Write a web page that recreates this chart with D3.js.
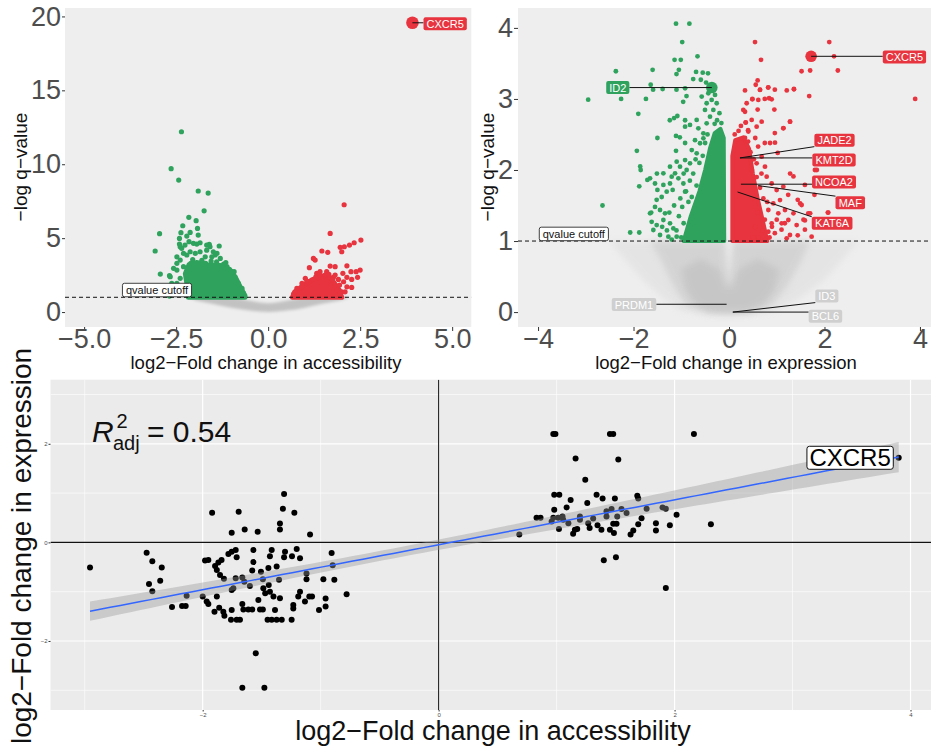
<!DOCTYPE html>
<html><head><meta charset="utf-8">
<script src="https://cdn.jsdelivr.net/npm/d3@7"></script>
<style>
body{margin:0;background:#fff}
svg{display:block;font-family:"Liberation Sans",Arial,Helvetica,sans-serif}
</style>
</head><body>
<svg id="chart" width="931" height="749"></svg>
<script>
// ================= DATA =================
// --- Panel A: differential accessibility volcano (log2FC, -log q) ---
const accXTicks = [-5, -2.5, 0, 2.5, 5];
const accXTickLabels = ["\u22125.0", "\u22122.5", "0.0", "2.5", "5.0"];
const accYTicks = [0, 5, 10, 15, 20];
const accCutoff = 1;
// not-significant cloud outline (smile shaped band below the cutoff)
const accNsCloud = [[-2.15,1.0],[-2.0,0.82],[-1.5,0.55],[-1.0,0.3],[-0.5,0.1],[0,0.0],[0.5,0.1],[1.0,0.3],[1.5,0.58],[2.0,0.82],[2.2,1.0],[1.0,1.0],[0.6,0.82],[0.3,0.68],[0,0.6],[-0.3,0.68],[-0.6,0.82],[-1.0,1.0]];
// dense cores of significant regions
const accDownCore = [[-2.17,1.0],[-2.2,1.8],[-2.25,2.6],[-2.15,3.2],[-1.95,3.35],[-1.65,3.2],[-1.3,3.15],[-1.05,2.9],[-0.88,2.3],[-0.76,1.7],[-0.63,1.1],[-0.63,1.0]];
const accUpCore = [[0.66,1.0],[0.72,1.35],[0.9,1.7],[1.2,2.2],[1.5,2.45],[1.68,2.35],[1.8,1.95],[1.93,1.5],[2.0,1.0]];
const accDownPoints = [[-2.356,12.2],[-2.636,9.70],[-2.43,8.93],[-1.90,8.19],[-1.63,8.05],[-1.74,6.85],[-2.155,6.41],[-1.957,6.18],[-2.32,5.84],[-2.95,5.30],[-1.92,5.66],[-2.12,5.39],[-2.21,5.14],[-1.90,5.21],[-2.37,5.37],[-2.41,4.98],[-3.07,4.13],[-1.33,4.47],[-2.93,2.57],[-2.68,2.46],[-2.48,2.84],[-1.60,4.58],[-1.67,4.19],[-1.85,4.08],[-2.39,4.42],[-2.30,3.97],[-2.57,2.96],[-0.924,2.73],[-1.26,3.07],[-2.48,3.74],[-1.44,3.86],
 [-2.41,4.60],[-2.35,4.31],[-2.26,4.53],[-2.15,4.76],[-2.03,4.65],[-1.94,4.60],[-1.85,4.69],[-1.67,4.53],[-1.58,4.42],[-1.49,4.08],[-1.39,3.97],[-1.53,3.74],[-1.71,3.74],[-1.98,3.97],[-2.12,4.08],[-2.21,3.86],[-2.39,3.52],[-2.48,3.30],[-2.30,3.07],[-2.66,2.39],[-2.62,1.94],[-2.75,1.71],[-2.48,1.94],[-2.39,2.28],[-2.35,1.71],[-2.30,1.27],[-2.68,1.08],[-1.12,3.07],[-0.99,2.73],[-1.21,3.25],[-0.90,2.39],[-0.81,1.94],[-0.71,1.60],[-0.67,1.27],[-1.30,3.63],
 [-1.8,3.5],[-1.55,3.45],[-2.05,3.55],[-1.15,3.35],[-1.4,3.4],[-2.1,3.3],[-1.7,3.3]];
const accUpPoints = [[2.065,7.26],[1.685,5.32],[2.52,4.87],[2.337,4.69],[2.21,4.53],[2.07,4.42],[1.957,4.38],[2.0,4.08],[1.46,4.13],[1.62,4.04],[1.23,3.63],[1.277,3.52],[1.12,3.0],[1.685,3.11],[1.82,3.07],[2.14,3.13],[2.5,2.84],[2.39,2.73],[2.25,2.73],[2.03,2.62],[2.43,2.35],[2.27,2.21],[2.14,2.35],[1.94,1.83],[2.27,1.67],[2.0,1.37],[0.69,1.22],[1.55,2.5],[1.775,2.35],
 [1.32,2.62],[1.41,2.73],[1.59,2.73],[1.82,2.5],[1.91,2.21],[2.05,2.05],[2.14,1.71],[2.09,1.37],[1.87,1.49],[1.01,2.28],[1.10,2.05],[0.92,1.94],[0.78,1.60],[0.73,1.37],[1.96,1.27],
 [1.3,2.4],[1.65,2.55],[1.4,2.5],[1.05,2.1],[1.75,2.2]];
const accGenes = ["CXCR5"];
const accGeneLogFC = [3.92];
const accGeneQ = [19.57];

// --- Panel B: differential expression volcano ---
const exprXTicks = [-4, -2, 0, 2, 4];
const exprXTickLabels = ["\u22124", "\u22122", "0", "2", "4"];
const exprYTicks = [0, 1, 2, 3, 4];
const exprCutoff = 1;
const exprNsOuter = [[-2.5,1.0],[-2.2,0.75],[-1.8,0.45],[-1.4,0.2],[-1.0,0.02],[-0.4,-0.05],[0.4,-0.05],[1.0,0.02],[1.5,0.2],[2.0,0.45],[2.4,0.75],[2.7,1.0],[0.09,1.0],[0.0,0.38],[-0.09,1.0]];
const exprNsMid = [[-1.65,1.0],[-1.4,0.7],[-1.15,0.35],[-0.9,0.1],[-0.5,0.0],[0,-0.03],[0.5,0.0],[0.9,0.1],[1.2,0.35],[1.5,0.7],[1.7,1.0],[0.08,1.0],[0.0,0.37],[-0.08,1.0]];
const exprNsCore = [[-1.0,0.6],[-0.9,0.3],[-0.7,0.1],[-0.35,0.0],[0.35,0.0],[0.7,0.1],[0.95,0.3],[1.05,0.6],[0.6,0.75],[0.2,0.6],[0.05,0.36],[-0.05,0.36],[-0.2,0.6],[-0.6,0.75]];
const exprDownCore = [[-0.95,1.0],[-0.8,1.35],[-0.62,1.7],[-0.5,2.0],[-0.4,2.3],[-0.3,2.52],[-0.18,2.58],[-0.11,2.45],[-0.1,1.0]];
const exprUpCore = [[0.07,1.0],[0.07,2.2],[0.13,2.42],[0.3,2.46],[0.42,2.3],[0.5,1.95],[0.6,1.6],[0.72,1.25],[0.8,1.0]];
const exprDownPoints = [[-1.11,4.06],[-0.83,4.06],[-0.98,3.80],[-0.66,3.60],[-1.14,3.55],[-1.01,3.55],[-2.37,3.39],[-1.60,3.41],[-1.05,3.41],[-1.10,3.35],[-0.69,3.38],[-0.55,3.37],[-0.44,3.36],[-0.75,3.28],[-0.59,3.27],[-0.48,3.23],[-1.64,3.20],[-1.59,3.13],[-1.39,3.14],[-1.10,3.13],[-0.92,3.15],[-2.95,2.99],[-2.26,3.0],[-1.74,3.0],[-0.89,3.04],[-0.96,2.96],[-1.90,2.79],[-1.24,2.70],[-1.15,2.73],[-0.92,2.70],[-1.50,2.45],[-1.11,2.48],[-1.03,2.46],[-0.92,2.38],[-1.93,2.27],[-1.11,2.27],[-1.86,2.05],[-1.85,2.0],[-1.71,1.86],[-1.88,1.77],[-1.51,1.95],[-2.65,1.50],[-2.07,1.12],[-1.88,1.12],[-1.63,1.40],[-1.62,1.27],
 [-1.654,1.883],[-1.55,1.81],[-1.50,1.72],[-1.375,1.79],[-1.305,1.695],[-1.236,1.81],[-1.20,1.906],[-1.13,1.953],[-1.41,1.62],[-1.515,1.58],[-1.55,1.48],[-1.445,1.437],[-1.34,1.39],[-1.375,1.296],[-1.236,1.249],[-1.166,1.178],[-1.654,1.39],[-1.515,1.225],[-1.585,1.155],[-1.445,1.085],[-1.27,1.061],[-1.096,1.061],[-1.06,1.883],[-0.956,1.81],[-0.92,1.695],[-1.026,2.047],[-0.887,2.0],[-0.817,2.094],[-0.92,2.14],[-0.78,2.28],[-0.677,2.235],[-0.607,2.376],[-0.712,2.42],[-0.537,2.516],[-0.468,2.657],[-0.398,2.75],[-0.503,2.845],[-0.328,2.845],[-0.363,2.986],[-0.258,2.939],[-0.468,2.939],[-0.572,3.033],[-0.433,3.08],[-0.293,3.056],[-0.677,2.704],[-0.817,2.634],[-0.92,2.61],[-1.082,2.76],[-0.642,2.587],[-0.537,2.446],[-1.236,2.047],[-1.096,2.117],[-1.375,1.953],
 [-1.2,1.02],[-1.1,1.15],[-1.0,1.05],[-0.95,1.25],[-0.88,1.1],[-0.8,1.3],[-1.05,1.35],[-1.15,1.5],[-0.98,1.48],[-0.85,1.55],[-0.9,1.7],[-0.78,1.62],[-0.7,1.45],[-0.72,1.2],[-0.66,1.08],[-0.82,1.85],[-0.75,1.95],[-0.68,1.78],[-1.02,1.6],[-1.18,1.72],[-0.62,2.1],[-0.55,2.2],[-0.7,2.15],[-0.6,1.35],[-0.95,1.95],[-1.3,1.15],[-1.25,1.4],[-1.4,1.2],[-0.5,2.38],[-0.45,2.5],[-0.25,2.7],[-0.2,2.8],[-0.3,2.65],[-0.16,2.66]];
const exprUpPoints = [[0.545,3.80],[2.10,3.80],[2.20,3.60],[0.67,3.55],[1.52,3.39],[1.70,3.40],[2.28,3.40],[3.90,3.0],[1.68,3.04],[0.60,3.26],[0.56,3.20],[0.335,3.12],[0.65,3.13],[0.82,3.16],[0.96,3.13],[1.21,3.12],[1.36,3.14],[0.49,3.0],[0.75,3.0],[0.84,3.01],[0.60,2.85],[0.95,2.85],[0.335,2.82],[0.35,2.67],[0.40,2.56],[1.28,2.68],[1.14,2.59],[0.96,2.52],[0.75,2.38],[0.86,2.38],[1.02,2.24],[0.335,2.45],[0.61,2.33],[1.80,2.0],[1.28,1.95],[1.35,1.91],[1.59,1.79],[1.79,1.65],[2.07,1.40],[1.44,1.58],[1.49,1.53],[1.24,1.65],[1.56,1.30],[1.70,1.39],[1.35,1.39],[1.44,1.08],[1.59,1.16],[1.17,1.25],[1.10,1.16],[0.96,1.11],[1.84,2.0],[2.08,1.40],[1.59,1.29],
 [0.963,2.385],[0.684,2.188],[0.579,2.094],[0.754,2.047],[0.789,1.906],[0.894,1.81],[0.998,1.718],[1.138,1.765],[1.068,1.577],[0.928,1.53],[0.824,1.437],[1.033,1.39],[1.173,1.437],[1.522,1.507],[0.894,1.249],[1.103,1.249],[1.243,1.296],[1.417,1.225],[1.661,1.39],[0.824,1.131],[1.277,1.085],[1.731,1.061],[0.754,1.014],[1.208,1.038],[0.475,2.704],[0.579,2.61],[0.405,2.54],[0.684,2.68],[0.30,2.845],[0.37,2.939],[0.614,2.986],[0.894,2.995],[1.138,2.587],[1.277,2.68],[0.649,3.127],[0.824,3.164],[1.361,3.136],[0.489,2.995],[0.349,2.667],
 [0.5,1.05],[0.55,1.2],[0.6,1.4],[0.5,1.6],[0.65,1.75],[0.58,1.9],[0.7,1.15],[0.75,1.3],[0.8,1.55],[0.72,1.6],[0.9,1.2],[0.85,1.05],[1.0,1.3],[0.48,2.0],[0.52,2.15],[0.45,2.25],[0.62,1.05],[0.68,1.95],[0.4,2.4],[0.55,2.45],[0.2,2.55],[0.12,2.5],[0.25,2.62]];
const exprGenes = ["CXCR5","ID2","JADE2","KMT2D","NCOA2","MAF","KAT6A","PRDM1","ID3","BCL6"];
const exprGeneLogFC = [1.72,-0.36,0.23,0.23,0.25,0.61,0.18,-0.05,0.08,0.08];
const exprGeneQ = [3.60,3.16,2.17,2.17,1.80,1.78,1.69,0.11,0.0,0.0];
const exprGeneClass = ["up","down","up","up","up","up","up","ns","ns","ns"];

// --- Panel C: accessibility vs expression (log2FC) ---
const scatterAcc = [-2.955,-2.475,-2.427,-2.347,-2.455,-2.36,-2.427,-2.26,-2.175,-2.144,-2.136,-1.92,-1.695,-1.754,-1.644,-1.534,-1.31,-1.32,-1.223,-1.345,-1.345,-1.09,-1.98,-1.952,-1.895,-1.867,-1.84,-1.782,-1.754,-1.72,-1.712,-1.88,-1.853,-1.82,-1.72,-1.664,-1.647,-1.57,-1.57,-1.58,-1.506,-1.415,-1.43,-1.443,-1.373,-1.302,-1.31,-1.203,-1.243,-1.175,-1.49,-1.486,-1.47,-1.43,-1.40,-1.345,-1.44,-1.528,-1.6,-1.74,-1.754,-2.0,-1.966,-1.952,-1.88,-1.9,-1.86,-1.825,-1.816,-1.754,-1.76,-1.712,-1.684,-1.664,-1.655,-1.613,-1.58,-1.514,-1.49,-1.45,-1.415,-1.373,-1.33,-1.387,-1.246,-1.232,-1.232,-1.19,-1.175,-1.133,-1.096,-1.073,-1.12,-1.12,-1.014,-0.958,-0.958,-0.977,-0.884,-0.907,-0.898,-0.78,-1.55,-1.664,-1.477,-1.353,
 0.972,0.99,1.452,1.48,2.164,1.161,1.523,1.243,0.98,1.023,1.119,1.339,1.39,1.494,1.684,1.692,1.26,1.085,0.98,0.83,0.864,0.972,1.014,1.05,0.958,1.10,1.198,1.198,1.268,1.31,1.423,1.466,1.55,1.593,1.514,1.763,1.898,1.926,2.017,1.72,1.692,1.842,1.842,1.96,2.308,0.684,1.02,1.14,1.175,1.28,1.347,1.38,1.452,1.486,1.48,1.508,1.627,1.65,1.40,1.503,1.926,3.90,1.155,1.423,1.056];
const scatterExpr = [-0.51,-0.21,-0.385,-0.51,-0.845,-0.78,-0.99,-1.31,-1.29,-1.29,-1.08,0.60,0.62,0.196,0.263,0.216,0.98,0.68,0.60,0.385,0.263,0.162,-0.365,-0.358,-0.48,-0.41,-0.358,-0.236,-0.19,-0.155,-0.30,-0.56,-0.66,-0.74,-0.73,-0.71,-0.80,-0.155,-0.40,-0.57,-0.595,-0.155,-0.28,-0.52,-0.49,-0.19,-0.30,-0.135,-0.28,-0.32,-0.75,-0.93,-1.03,-1.0,-1.10,-1.135,-0.865,-1.17,-0.885,-0.93,-0.966,-1.10,-1.20,-1.25,-1.10,-1.405,-1.324,-1.405,-1.49,-1.37,-1.57,-1.57,-1.57,-1.25,-1.36,-1.36,-1.36,-1.36,-1.36,-1.57,-1.57,-1.57,-1.57,-1.37,-1.57,-1.27,-1.34,-1.10,-1.0,-1.20,-1.10,-1.10,-0.63,-0.75,-1.37,-1.30,-1.14,-0.75,-0.76,-0.216,-0.466,-1.05,-2.25,-2.95,-2.95,-0.76,
 2.20,2.20,2.20,2.20,2.20,1.70,1.68,1.27,0.966,0.966,0.858,0.966,0.89,0.89,0.946,0.89,0.80,0.71,0.66,0.50,0.50,0.50,0.50,0.527,0.426,0.39,0.527,0.46,0.39,0.486,0.527,0.676,0.676,0.595,0.527,0.682,0.71,0.68,0.56,0.49,0.37,0.39,0.24,0.35,0.37,0.16,0.27,0.176,0.27,0.29,0.35,0.257,0.257,0.19,0.378,0.378,0.16,0.24,-0.36,-0.30,-0.926,1.716,0.257,0.63,0.46];
const scatterXTicks = [-2, 0, 2, 4];
const scatterYTicks = [-2, 0, 2];
const scatterLabelGene = "CXCR5";
const r2adj = "0.54";

// ================= DRAWING =================
const svg = d3.select("#chart");
const defs = svg.append("defs");
const FONT_GRAY = "#4d4d4d";
const GREEN = "#2fa35d", RED = "#e8343e", NSGRAY = "#c4c4c4";
defs.append("filter").attr("id","soft").attr("x","-20%").attr("y","-20%").attr("width","140%").attr("height","140%")
  .append("feGaussianBlur").attr("stdDeviation", 1.6);
defs.append("filter").attr("id","softer").attr("x","-20%").attr("y","-20%").attr("width","140%").attr("height","140%")
  .append("feGaussianBlur").attr("stdDeviation", 3);

function clip(id, x0, y0, x1, y1) {
  defs.append("clipPath").attr("id", id).append("rect").attr("x", x0).attr("y", y0).attr("width", x1 - x0).attr("height", y1 - y0);
  return "url(#" + id + ")";
}

function styleAxis(g, fs) {
  g.select(".domain").remove();
  g.selectAll(".tick line").attr("stroke", "#333").attr("stroke-width", 1);
  g.selectAll(".tick text").attr("fill", FONT_GRAY).style("font-size", fs + "px").style("font-family", "'Liberation Sans',Arial,sans-serif");
}

function region(g, pts, xs, ys, fill, opts) {
  const line = d3.line().x(d => xs(d[0])).y(d => ys(d[1])).curve(opts.curve || d3.curveLinearClosed);
  const p = g.append("path").attr("d", line(pts)).attr("fill", fill);
  if (opts.stroke) p.attr("stroke", fill).attr("stroke-width", opts.stroke).attr("stroke-linejoin", "round");
  if (opts.opacity != null) p.attr("opacity", opts.opacity);
  if (opts.filter) p.attr("filter", opts.filter);
  return p;
}

function dots(g, pts, xs, ys, fill, r) {
  g.selectAll(null).data(pts).enter().append("circle")
    .attr("cx", d => xs(d[0])).attr("cy", d => ys(d[1])).attr("r", r).attr("fill", fill);
}

function boxLabel(lineLayer, boxLayer, text, cx, cy, px, py, st) {
  const g = boxLayer.append("g");
  const t = g.append("text").attr("x", cx).attr("y", cy).attr("text-anchor", "middle").attr("dy", "0.36em")
    .style("font-size", st.fs + "px").attr("fill", st.color).text(text);
  const bb = t.node().getBBox();
  const w = bb.width + 2 * st.padX, h = st.h;
  const bx = cx - w / 2, by = cy - h / 2;
  g.insert("rect", "text").attr("x", bx).attr("y", by).attr("width", w).attr("height", h).attr("rx", st.rx)
    .attr("fill", st.fill).attr("stroke", st.stroke || "none").attr("stroke-width", st.sw || 0);
  if (px != null) {
    const ex = Math.max(bx, Math.min(px, bx + w)), ey = Math.max(by, Math.min(py, by + h));
    lineLayer.append("line").attr("x1", px).attr("y1", py).attr("x2", ex).attr("y2", ey)
      .attr("stroke", "#111").attr("stroke-width", 1);
  }
}

// ---------- Panel A ----------
(function () {
  const L = 65, R = 471.3, T = 8, B = 327;
  const xs = d3.scaleLinear().domain([-5.52, 5.52]).range([L, R]);
  const ys = d3.scaleLinear().domain([-1.01, 20.57]).range([B, T]);
  svg.append("rect").attr("x", L).attr("y", T).attr("width", R - L).attr("height", B - T).attr("fill", "#eeeeee");
  const g = svg.append("g").attr("clip-path", clip("clipA", L, T, R, B));
  region(g, accNsCloud, xs, ys, "#c2c2c2", { curve: d3.curveCatmullRomClosed, filter: "url(#soft)", opacity: 1 });
  region(g, accDownCore, xs, ys, GREEN, { stroke: 5 });
  region(g, accUpCore, xs, ys, RED, { stroke: 5 });
  dots(g, accDownPoints, xs, ys, GREEN, 2.6);
  dots(g, accUpPoints, xs, ys, RED, 2.6);
  const genePts = accGenes.map((d, i) => [accGeneLogFC[i], accGeneQ[i]]);
  dots(g, genePts, xs, ys, RED, 6.3);
  g.append("line").attr("x1", L).attr("x2", R).attr("y1", ys(accCutoff)).attr("y2", ys(accCutoff))
    .attr("stroke", "#111").attr("stroke-width", 1).attr("stroke-dasharray", "4,3");
  const lines = g.append("g"), boxes = g.append("g");
  boxLabel(lines, boxes, "qvalue cutoff", xs(-3.02), ys(1.49), null, null,
    { fs: 11, color: "#111", padX: 3, h: 13.5, rx: 2, fill: "#fff", stroke: "#111", sw: 0.8 });
  accGenes.forEach((gene, i) => {
    boxLabel(lines, boxes, gene, xs(4.81), ys(19.5), xs(accGeneLogFC[i]), ys(accGeneQ[i]),
      { fs: 11, color: "#fff", padX: 3, h: 13, rx: 2, fill: RED });
  });
  const ax = svg.append("g").attr("transform", `translate(0,${B})`)
    .call(d3.axisBottom(xs).tickValues(accXTicks).tickSize(4).tickFormat((d, i) => accXTickLabels[i]));
  styleAxis(ax, 27);
  ax.selectAll(".tick text").attr("y", 2);
  const ay = svg.append("g").attr("transform", `translate(${L},0)`)
    .call(d3.axisLeft(ys).tickValues(accYTicks).tickSize(3).tickPadding(1).tickFormat(d3.format("d")));
  styleAxis(ay, 27);
  svg.append("text").attr("x", 266).attr("y", 369).attr("text-anchor", "middle").style("font-size", "18.5px").attr("fill", "#111")
    .text("log2\u2212Fold change in accessibility");
  svg.append("text").attr("transform", "translate(27,167) rotate(-90)").attr("text-anchor", "middle").style("font-size", "19px").attr("fill", "#111")
    .text("\u2212log q\u2212value");
})();

// ---------- Panel B ----------
(function () {
  const L = 518, R = 940, T = 8, B = 327;
  const xs = d3.scaleLinear().domain([-4.42, 4.42]).range([L, R]);
  const ys = d3.scaleLinear().domain([-0.21, 4.28]).range([B, T]);
  svg.append("rect").attr("x", L).attr("y", T).attr("width", R - L).attr("height", B - T).attr("fill", "#eeeeee");
  const g = svg.append("g").attr("clip-path", clip("clipB", L, T, R, B));
  region(g, exprNsOuter, xs, ys, NSGRAY, { opacity: 0.22, filter: "url(#softer)" });
  region(g, exprNsMid, xs, ys, NSGRAY, { opacity: 0.5, filter: "url(#softer)" });
  region(g, exprNsCore, xs, ys, "#bdbdbd", { opacity: 0.55, filter: "url(#softer)" });
  region(g, exprDownCore, xs, ys, GREEN, { stroke: 4 });
  region(g, exprUpCore, xs, ys, RED, { stroke: 4 });
  dots(g, exprDownPoints, xs, ys, GREEN, 2.4);
  dots(g, exprUpPoints, xs, ys, RED, 2.4);
  const genePts = exprGenes.map((d, i) => ({ x: exprGeneLogFC[i], y: exprGeneQ[i], c: exprGeneClass[i], gene: d }));
  const big = genePts.filter(d => d.gene === "CXCR5" || d.gene === "ID2");
  g.selectAll(null).data(big).enter().append("circle").attr("cx", d => xs(d.x)).attr("cy", d => ys(d.y)).attr("r", 5.8)
    .attr("fill", d => d.c === "up" ? RED : GREEN);
  g.append("line").attr("x1", L).attr("x2", R).attr("y1", ys(exprCutoff)).attr("y2", ys(exprCutoff))
    .attr("stroke", "#111").attr("stroke-width", 1).attr("stroke-dasharray", "4,3");
  const lines = g.append("g"), boxes = g.append("g");
  boxLabel(lines, boxes, "qvalue cutoff", xs(-3.25), ys(1.10), null, null,
    { fs: 11, color: "#111", padX: 3, h: 13.5, rx: 2, fill: "#fff", stroke: "#111", sw: 0.8 });
  // label placement (data units) for each gene, in exprGenes order
  const place = [[3.675, 3.59], [-2.33, 3.16], [2.21, 2.42], [2.2, 2.14], [2.2, 1.83], [2.54, 1.54], [2.16, 1.25], [-1.99, 0.105], [2.05, 0.225], [2.02, -0.06]];
  genePts.forEach((d, i) => {
    const fill = d.c === "up" ? RED : d.c === "down" ? GREEN : "#cfcfcf";
    boxLabel(lines, boxes, d.gene, xs(place[i][0]), ys(place[i][1]), xs(d.x), ys(d.y),
      { fs: 11, color: "#fff", padX: 3, h: 13, rx: 2, fill: fill });
  });
  const ax = svg.append("g").attr("transform", `translate(0,${B})`)
    .call(d3.axisBottom(xs).tickValues(exprXTicks).tickSize(4).tickFormat((d, i) => exprXTickLabels[i]));
  styleAxis(ax, 27);
  ax.selectAll(".tick text").attr("y", 2);
  const ay = svg.append("g").attr("transform", `translate(${L},0)`)
    .call(d3.axisLeft(ys).tickValues(exprYTicks).tickSize(4).tickPadding(1).tickFormat(d3.format("d")));
  styleAxis(ay, 27);
  svg.append("text").attr("x", 726).attr("y", 369).attr("text-anchor", "middle").style("font-size", "18.5px").attr("fill", "#111")
    .text("log2\u2212Fold change in expression");
  svg.append("text").attr("transform", "translate(494,167) rotate(-90)").attr("text-anchor", "middle").style("font-size", "19px").attr("fill", "#111")
    .text("\u2212log q\u2212value");
})();

// ---------- Panel C ----------
(function () {
  const L = 50.5, R = 940, T = 379.7, B = 710;
  const xs = d3.scaleLinear().domain([-3.29, 4.25]).range([L, R]);
  const ys = d3.scaleLinear().domain([-3.40, 3.30]).range([B, T]);
  svg.append("rect").attr("x", L).attr("y", T).attr("width", R - L).attr("height", B - T).attr("fill", "#ebebeb");
  const g = svg.append("g").attr("clip-path", clip("clipC", L, T, R, B));
  const minorX = [-3, -1, 1, 3], minorY = [-3, -1, 1, 3];
  g.selectAll(null).data(minorX).enter().append("line").attr("x1", d => xs(d)).attr("x2", d => xs(d)).attr("y1", T).attr("y2", B).attr("stroke", "#fff").attr("stroke-width", 0.6);
  g.selectAll(null).data(minorY).enter().append("line").attr("y1", d => ys(d)).attr("y2", d => ys(d)).attr("x1", L).attr("x2", R).attr("stroke", "#fff").attr("stroke-width", 0.6);
  g.selectAll(null).data(scatterXTicks).enter().append("line").attr("x1", d => xs(d)).attr("x2", d => xs(d)).attr("y1", T).attr("y2", B).attr("stroke", "#fff").attr("stroke-width", 1.2);
  g.selectAll(null).data(scatterYTicks).enter().append("line").attr("y1", d => ys(d)).attr("y2", d => ys(d)).attr("x1", L).attr("x2", R).attr("stroke", "#fff").attr("stroke-width", 1.2);
  g.append("line").attr("x1", xs(0)).attr("x2", xs(0)).attr("y1", T).attr("y2", B).attr("stroke", "#111").attr("stroke-width", 1);
  g.append("line").attr("y1", ys(0)).attr("y2", ys(0)).attr("x1", L).attr("x2", R).attr("stroke", "#111").attr("stroke-width", 1.1);
  const pts = scatterAcc.map((x, i) => [x, scatterExpr[i]]);
  dots(g, pts, xs, ys, "#000", 3);
  // linear fit with 95% confidence band (as geom_smooth(method = "lm"))
  const n = pts.length;
  const mx = d3.mean(pts, d => d[0]), my = d3.mean(pts, d => d[1]);
  const sxx = d3.sum(pts, d => (d[0] - mx) ** 2), sxy = d3.sum(pts, d => (d[0] - mx) * (d[1] - my));
  const b1 = sxy / sxx, b0 = my - b1 * mx;
  const s = Math.sqrt(d3.sum(pts, d => (d[1] - b0 - b1 * d[0]) ** 2) / (n - 2));
  const tq = 1.97;
  const [x0, x1] = d3.extent(pts, d => d[0]);
  const grid = d3.range(0, 81).map(k => x0 + (x1 - x0) * k / 80);
  const band = grid.map(x => {
    const yh = b0 + b1 * x, se = s * Math.sqrt(1 / n + (x - mx) ** 2 / sxx);
    return { x, y: yh, lo: yh - tq * se, hi: yh + tq * se };
  });
  g.append("path").attr("d", d3.area().x(d => xs(d.x)).y0(d => ys(d.lo)).y1(d => ys(d.hi))(band))
    .attr("fill", "#999999").attr("opacity", 0.4);
  g.append("path").attr("d", d3.line().x(d => xs(d.x)).y(d => ys(d.y))(band))
    .attr("fill", "none").attr("stroke", "#3366ff").attr("stroke-width", 1.5);
  // gene label
  const gi = scatterAcc.indexOf(d3.max(scatterAcc));
  const lines = g.append("g"), boxes = g.append("g");
  boxLabel(lines, boxes, scatterLabelGene, xs(3.488), ys(scatterExpr[gi]), null, null,
    { fs: 24, color: "#000", padX: 2.5, h: 23, rx: 2.5, fill: "#fff", stroke: "#111", sw: 1 });
  // R^2 annotation
  const t = svg.append("g").style("font-size", "30px").attr("fill", "#111");
  t.append("text").attr("x", 92).attr("y", 441.7).style("font-style", "italic").text("R");
  t.append("text").attr("x", 116.5).attr("y", 428).style("font-size", "20px").text("2");
  t.append("text").attr("x", 113).attr("y", 450).style("font-size", "20px").text("adj");
  t.append("text").attr("x", 147).attr("y", 441.7).text("= " + r2adj);
  // axes
  const ax = svg.append("g").attr("transform", `translate(0,${B})`)
    .call(d3.axisBottom(xs).tickValues(scatterXTicks).tickSize(1.5).tickPadding(1).tickFormat(d3.format("d")));
  styleAxis(ax, 6);
  const ay = svg.append("g").attr("transform", `translate(${L},0)`)
    .call(d3.axisLeft(ys).tickValues(scatterYTicks).tickSize(2).tickPadding(1).tickFormat(d3.format("d")));
  styleAxis(ay, 6);
  svg.append("text").attr("x", 493).attr("y", 740).attr("text-anchor", "middle").style("font-size", "27px").attr("fill", "#111")
    .text("log2\u2212Fold change in accessibility");
  svg.append("text").attr("transform", "translate(31,546) rotate(-90)").attr("text-anchor", "middle").style("font-size", "28px").attr("fill", "#111")
    .text("log2\u2212Fold change in expression");
})();
</script>
</body></html>
